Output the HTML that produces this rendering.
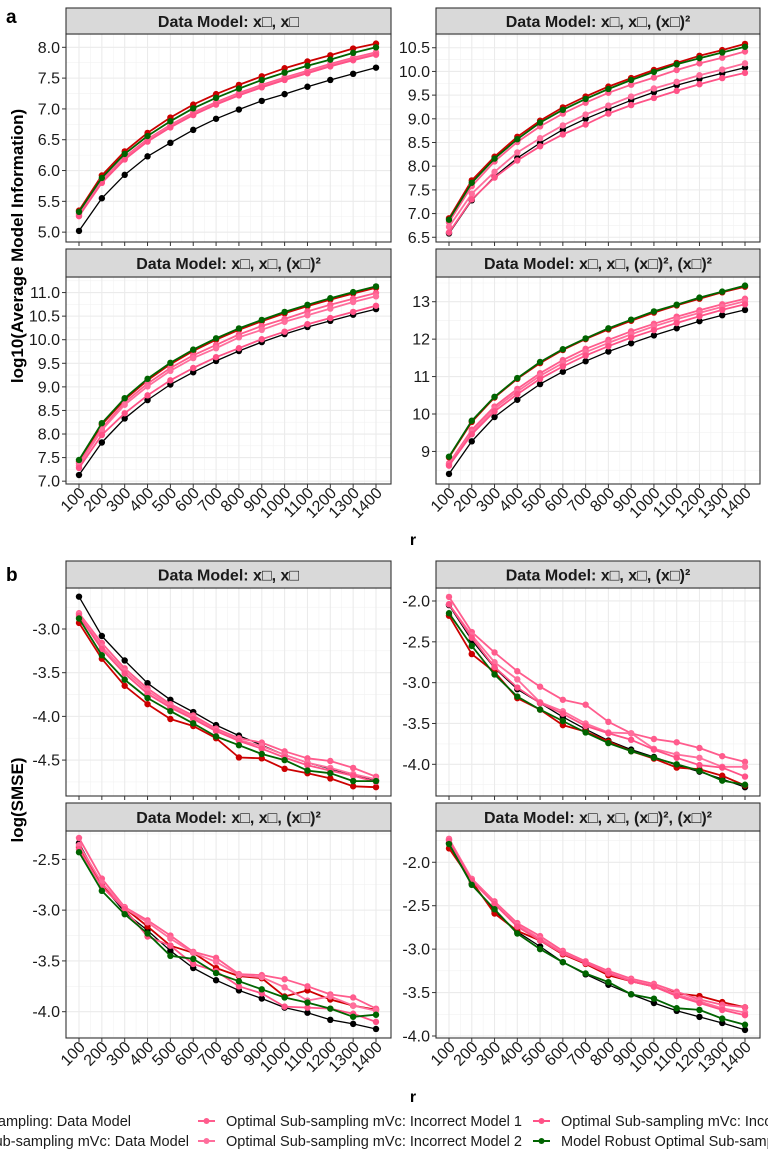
<!DOCTYPE html>
<html><head><meta charset="utf-8"><style>
body{margin:0;background:#fff;}
svg{display:block;font-family:"Liberation Sans",sans-serif;}
</style></head><body>
<svg id="chart" width="768" height="1152" viewBox="0 0 768 1152" xmlns="http://www.w3.org/2000/svg">
<g id="root"></g>
</svg>
<script>
const rValues=[100,200,300,400,500,600,700,800,900,1000,1100,1200,1300,1400];
const seriesNames=["Random Sampling: Data Model","Optimal Sub-sampling mVc: Data Model","Optimal Sub-sampling mVc: Incorrect Model 1","Optimal Sub-sampling mVc: Incorrect Model 2","Optimal Sub-sampling mVc: Incorrect Model 3","Model Robust Optimal Sub-sampling"];
// panel a1
const a1Random=[5.02,5.55,5.93,6.23,6.45,6.66,6.84,6.99,7.13,7.24,7.36,7.47,7.57,7.67];
const a1Optimal=[5.35,5.92,6.31,6.61,6.86,7.07,7.24,7.39,7.53,7.66,7.77,7.87,7.98,8.06];
const a1Inc1=[5.30,5.84,6.22,6.51,6.74,6.94,7.11,7.26,7.39,7.51,7.62,7.73,7.83,7.92];
const a1Inc2=[5.28,5.82,6.20,6.49,6.72,6.92,7.09,7.24,7.37,7.49,7.60,7.71,7.81,7.90];
const a1Inc3=[5.26,5.80,6.18,6.47,6.70,6.90,7.07,7.22,7.35,7.47,7.58,7.69,7.79,7.88];
const a1Robust=[5.33,5.88,6.27,6.56,6.80,7.01,7.18,7.33,7.47,7.59,7.70,7.80,7.91,8.00];
// panel a2
const a2Random=[6.58,7.28,7.78,8.17,8.49,8.77,9.00,9.20,9.39,9.56,9.71,9.84,9.96,10.08];
const a2Optimal=[6.90,7.70,8.20,8.62,8.96,9.24,9.47,9.68,9.86,10.03,10.18,10.33,10.45,10.58];
const a2Inc1=[6.82,7.58,8.10,8.51,8.84,9.11,9.34,9.55,9.72,9.87,10.03,10.17,10.29,10.42];
const a2Inc2=[6.72,7.42,7.88,8.29,8.59,8.86,9.09,9.28,9.47,9.64,9.78,9.92,10.04,10.17];
const a2Inc3=[6.60,7.30,7.76,8.12,8.42,8.67,8.88,9.11,9.29,9.44,9.59,9.73,9.86,9.97];
const a2Robust=[6.87,7.65,8.16,8.57,8.92,9.19,9.42,9.63,9.82,9.99,10.15,10.28,10.40,10.52];
// panel a3
const a3Random=[7.13,7.82,8.33,8.72,9.05,9.31,9.55,9.76,9.95,10.12,10.27,10.40,10.53,10.65];
const a3Optimal=[7.42,8.20,8.73,9.14,9.48,9.76,10.00,10.21,10.39,10.56,10.71,10.85,10.98,11.10];
const a3Inc1=[7.38,8.12,8.67,9.07,9.40,9.67,9.89,10.11,10.29,10.44,10.60,10.74,10.87,10.99];
const a3Inc2=[7.33,8.08,8.62,9.01,9.34,9.61,9.82,10.05,10.21,10.38,10.52,10.66,10.80,10.92];
const a3Inc3=[7.28,7.98,8.44,8.82,9.14,9.40,9.63,9.82,10.01,10.17,10.33,10.46,10.59,10.72];
const a3Robust=[7.45,8.23,8.76,9.17,9.51,9.79,10.03,10.24,10.42,10.59,10.74,10.88,11.01,11.13];
// panel a4
const a4Random=[8.40,9.27,9.92,10.38,10.80,11.13,11.41,11.67,11.89,12.10,12.29,12.48,12.64,12.78];
const a4Optimal=[8.84,9.79,10.44,10.94,11.36,11.71,12.00,12.26,12.49,12.71,12.90,13.08,13.25,13.40];
const a4Inc1=[8.68,9.58,10.20,10.67,11.09,11.44,11.74,11.98,12.21,12.41,12.60,12.77,12.93,13.08];
const a4Inc2=[8.65,9.52,10.14,10.60,11.02,11.36,11.65,11.90,12.13,12.34,12.53,12.70,12.86,13.01];
const a4Inc3=[8.62,9.46,10.07,10.53,10.94,11.27,11.56,11.81,12.04,12.24,12.43,12.61,12.78,12.93];
const a4Robust=[8.86,9.82,10.46,10.96,11.39,11.73,12.02,12.29,12.52,12.74,12.92,13.11,13.27,13.43];
// panel b1
const b1Random=[-2.63,-3.08,-3.36,-3.62,-3.81,-3.95,-4.10,-4.22,-4.33,-4.44,-4.53,-4.60,-4.67,-4.74];
const b1Optimal=[-2.93,-3.34,-3.65,-3.86,-4.03,-4.11,-4.25,-4.47,-4.48,-4.60,-4.65,-4.71,-4.80,-4.81];
const b1Inc1=[-2.82,-3.16,-3.45,-3.68,-3.86,-3.99,-4.14,-4.25,-4.30,-4.40,-4.48,-4.51,-4.59,-4.69];
const b1Inc2=[-2.83,-3.20,-3.48,-3.71,-3.88,-4.01,-4.16,-4.27,-4.34,-4.44,-4.53,-4.59,-4.66,-4.72];
const b1Inc3=[-2.85,-3.23,-3.51,-3.74,-3.90,-4.03,-4.17,-4.28,-4.37,-4.47,-4.56,-4.62,-4.68,-4.75];
const b1Robust=[-2.88,-3.30,-3.58,-3.79,-3.94,-4.08,-4.23,-4.33,-4.43,-4.50,-4.62,-4.65,-4.74,-4.74];
// panel b2
const b2Random=[-2.05,-2.48,-2.82,-3.08,-3.25,-3.42,-3.57,-3.71,-3.82,-3.91,-4.01,-4.09,-4.18,-4.28];
const b2Optimal=[-2.18,-2.65,-2.87,-3.19,-3.33,-3.52,-3.60,-3.72,-3.84,-3.93,-4.04,-4.06,-4.14,-4.26];
const b2Inc1=[-1.95,-2.38,-2.63,-2.86,-3.05,-3.21,-3.27,-3.48,-3.62,-3.69,-3.73,-3.80,-3.90,-3.97];
const b2Inc2=[-2.04,-2.42,-2.75,-2.96,-3.24,-3.35,-3.50,-3.61,-3.62,-3.81,-3.88,-3.92,-4.03,-4.03];
const b2Inc3=[-2.04,-2.45,-2.81,-3.06,-3.25,-3.38,-3.53,-3.62,-3.70,-3.82,-3.92,-4.01,-4.04,-4.15];
const b2Robust=[-2.15,-2.55,-2.90,-3.17,-3.33,-3.47,-3.61,-3.74,-3.84,-3.92,-4.00,-4.08,-4.20,-4.25];
// panel b3
const b3Random=[-2.34,-2.75,-3.02,-3.20,-3.40,-3.57,-3.69,-3.79,-3.87,-3.96,-4.01,-4.08,-4.12,-4.17];
const b3Optimal=[-2.38,-2.76,-2.98,-3.16,-3.35,-3.42,-3.57,-3.65,-3.67,-3.85,-3.79,-3.88,-3.94,-3.98];
const b3Inc1=[-2.29,-2.69,-2.97,-3.10,-3.25,-3.41,-3.47,-3.63,-3.64,-3.68,-3.75,-3.83,-3.86,-3.97];
const b3Inc2=[-2.36,-2.73,-2.98,-3.12,-3.28,-3.42,-3.51,-3.64,-3.66,-3.76,-3.89,-3.85,-3.94,-3.99];
const b3Inc3=[-2.40,-2.77,-2.99,-3.26,-3.35,-3.53,-3.60,-3.75,-3.82,-3.95,-3.96,-3.97,-4.02,-4.10];
const b3Robust=[-2.43,-2.81,-3.04,-3.23,-3.45,-3.48,-3.62,-3.70,-3.78,-3.86,-3.91,-3.97,-4.05,-4.03];
// panel b4
const b4Random=[-1.78,-2.25,-2.56,-2.80,-2.97,-3.15,-3.29,-3.41,-3.52,-3.62,-3.71,-3.78,-3.85,-3.93];
const b4Optimal=[-1.84,-2.22,-2.59,-2.79,-2.90,-3.06,-3.17,-3.30,-3.37,-3.43,-3.51,-3.54,-3.61,-3.67];
const b4Inc1=[-1.73,-2.19,-2.45,-2.70,-2.85,-3.02,-3.14,-3.25,-3.34,-3.40,-3.49,-3.58,-3.64,-3.67];
const b4Inc2=[-1.74,-2.20,-2.47,-2.72,-2.88,-3.04,-3.16,-3.27,-3.36,-3.42,-3.52,-3.60,-3.68,-3.73];
const b4Inc3=[-1.75,-2.21,-2.48,-2.74,-2.90,-3.05,-3.16,-3.28,-3.37,-3.43,-3.54,-3.62,-3.70,-3.76];
const b4Robust=[-1.79,-2.26,-2.54,-2.82,-3.00,-3.15,-3.28,-3.38,-3.52,-3.57,-3.68,-3.70,-3.80,-3.87];
// tick labels
const a1Ticks=["5.0","5.5","6.0","6.5","7.0","7.5","8.0"];
const a2Ticks=["6.5","7.0","7.5","8.0","8.5","9.0","9.5","10.0","10.5"];
const a3Ticks=["7.0","7.5","8.0","8.5","9.0","9.5","10.0","10.5","11.0"];
const a4Ticks=["9","10","11","12","13"];
const b1Ticks=["-4.5","-4.0","-3.5","-3.0"];
const b2Ticks=["-4.0","-3.5","-3.0","-2.5","-2.0"];
const b3Ticks=["-4.0","-3.5","-3.0","-2.5"];
const b4Ticks=["-4.0","-3.5","-3.0","-2.5","-2.0"];

const NS="http://www.w3.org/2000/svg";
const root=document.getElementById('root');
const colors=["#000000","#cc0000","#ff5c8d","#ff6e9c","#ff5287","#006400"];
const widths=[1.3,1.8,1.8,1.8,1.8,1.8];
function mk(tag,attrs,parent){const e=document.createElementNS(NS,tag);for(const k in attrs)e.setAttribute(k,attrs[k]);(parent||root).appendChild(e);return e;}

const SQ="\u25A1";
const panels=[
 {id:"a1",title:"Data Model: x"+SQ+", x"+SQ,x0:66,x1:391,st:8,top:34,bot:242,dom:[4.84,8.216],ticks:a1Ticks,minor:0.25,series:[a1Random,a1Optimal,a1Inc1,a1Inc2,a1Inc3,a1Robust],xl:false},
 {id:"a2",title:"Data Model: x"+SQ+", x"+SQ+", (x"+SQ+")\u00B2",x0:436,x1:760,st:8,top:34,bot:242,dom:[6.40,10.79],ticks:a2Ticks,minor:0.25,series:[a2Random,a2Optimal,a2Inc1,a2Inc2,a2Inc3,a2Robust],xl:false},
 {id:"a3",title:"Data Model: x"+SQ+", x"+SQ+", (x"+SQ+")\u00B2",x0:66,x1:391,st:249,top:277,bot:484,dom:[6.94,11.33],ticks:a3Ticks,minor:0.25,series:[a3Random,a3Optimal,a3Inc1,a3Inc2,a3Inc3,a3Robust],xl:true},
 {id:"a4",title:"Data Model: x"+SQ+", x"+SQ+", (x"+SQ+")\u00B2, (x"+SQ+")\u00B2",x0:436,x1:760,st:249,top:277,bot:484,dom:[8.13,13.66],ticks:a4Ticks,minor:0.5,series:[a4Random,a4Optimal,a4Inc1,a4Inc2,a4Inc3,a4Robust],xl:true},
 {id:"b1",title:"Data Model: x"+SQ+", x"+SQ,x0:66,x1:391,st:561,top:588,bot:796,dom:[-4.911,-2.531],ticks:b1Ticks,minor:0.25,series:[b1Random,b1Optimal,b1Inc1,b1Inc2,b1Inc3,b1Robust],xl:false},
 {id:"b2",title:"Data Model: x"+SQ+", x"+SQ+", (x"+SQ+")\u00B2",x0:436,x1:760,st:561,top:588,bot:796,dom:[-4.388,-1.841],ticks:b2Ticks,minor:0.25,series:[b2Random,b2Optimal,b2Inc1,b2Inc2,b2Inc3,b2Robust],xl:false},
 {id:"b3",title:"Data Model: x"+SQ+", x"+SQ+", (x"+SQ+")\u00B2",x0:66,x1:391,st:803,top:831,bot:1038,dom:[-4.259,-2.221],ticks:b3Ticks,minor:0.25,series:[b3Random,b3Optimal,b3Inc1,b3Inc2,b3Inc3,b3Robust],xl:true},
 {id:"b4",title:"Data Model: x"+SQ+", x"+SQ+", (x"+SQ+")\u00B2, (x"+SQ+")\u00B2",x0:436,x1:760,st:803,top:831,bot:1038,dom:[-4.023,-1.640],ticks:b4Ticks,minor:0.25,series:[b4Random,b4Optimal,b4Inc1,b4Inc2,b4Inc3,b4Robust],xl:true}
];

panels.forEach(p=>{
  const g=mk('g',{});
  
  
  const xs=p.x0+13, xe=p.x1-15;
  const xScale=v=>xs+(v-100)/(1300)*(xe-xs);
  const yScale=v=>p.bot-(v-p.dom[0])/(p.dom[1]-p.dom[0])*(p.bot-p.top);
  mk('rect',{x:p.x0,y:p.top,width:p.x1-p.x0,height:p.bot-p.top,fill:"#fff"},g);
  const start=Math.ceil(p.dom[0]/p.minor)*p.minor;
  for(let v=start;v<=p.dom[1];v+=p.minor){
    const y=yScale(v);
    mk('line',{x1:p.x0,x2:p.x1,y1:y,y2:y,stroke:"#f2f2f2","stroke-width":0.6},g);
  }
  for(let i=0;i<rValues.length-1;i++){
    const x=xScale((rValues[i]+rValues[i+1])/2);
    mk('line',{x1:x,x2:x,y1:p.top,y2:p.bot,stroke:"#f2f2f2","stroke-width":0.6},g);
  }
  p.ticks.forEach(t=>{
    const y=yScale(parseFloat(t));
    mk('line',{x1:p.x0,x2:p.x1,y1:y,y2:y,stroke:"#ebebeb","stroke-width":1.1},g);
    mk('line',{x1:p.x0-4,x2:p.x0,y1:y,y2:y,stroke:"#333","stroke-width":1},g);
    const tx=mk('text',{x:p.x0-6,y:y+5.5,"text-anchor":"end","font-size":"16",fill:"#1a1a1a"},g);
    
    
    tx.textContent=t;
  });
  rValues.forEach(r=>{
    const x=xScale(r);
    mk('line',{x1:x,x2:x,y1:p.top,y2:p.bot,stroke:"#ebebeb","stroke-width":1.1},g);
    mk('line',{x1:x,x2:x,y1:p.bot,y2:p.bot+4,stroke:"#333","stroke-width":1},g);
    if(p.xl){
      const tx=mk('text',{transform:`translate(${x+7},${p.bot+10}) rotate(-45)`,"text-anchor":"end","font-size":"16",fill:"#1a1a1a"},g);
      
      
      tx.textContent=r;
    }
  });
  p.series.forEach((s,si)=>{
    const pts=s.map((v,i)=>xScale(rValues[i]).toFixed(1)+","+yScale(v).toFixed(1)).join(" ");
    const pl=mk('polyline',{points:pts,fill:"none",stroke:colors[si],"stroke-width":widths[si],"stroke-linejoin":"round"},g);
    
    
    s.forEach((v,i)=>{
      const c=mk('circle',{cx:xScale(rValues[i]),cy:yScale(v),r:3.2,fill:colors[si]},g);
      
      
    });
  });
  mk('rect',{x:p.x0,y:p.top,width:p.x1-p.x0,height:p.bot-p.top,fill:"none",stroke:"#333","stroke-width":1.1},g);
  const strip=mk('rect',{x:p.x0,y:p.st,width:p.x1-p.x0,height:p.top-p.st,fill:"#d9d9d9",stroke:"#333","stroke-width":1.1},g);
  
  
  const st=mk('text',{x:(p.x0+p.x1)/2,y:(p.st+p.top)/2+6,"text-anchor":"middle","font-size":"16","font-weight":"bold",fill:"#1a1a1a"},g);
  
  
  st.textContent=p.title;
});

function label(txt,attrs,name){const t=mk('text',attrs);t.textContent=txt;return t;}
label("a",{x:6,y:23,"font-size":"19","font-weight":"bold"},"panel-a-label");
label("b",{x:6,y:581,"font-size":"19","font-weight":"bold"},"panel-b-label");
label("r",{x:413,y:545,"font-size":"16","font-weight":"bold","text-anchor":"middle"},"x-axis-title-a");
label("r",{x:413,y:1102,"font-size":"16","font-weight":"bold","text-anchor":"middle"},"x-axis-title-b");
label("log10(Average Model Information)",{transform:"translate(23,246) rotate(-90)","font-size":"17","font-weight":"bold","text-anchor":"middle"},"y-axis-title-a");
label("log(SMSE)",{transform:"translate(23,800) rotate(-90)","font-size":"17","font-weight":"bold","text-anchor":"middle"},"y-axis-title-b");

// legend: scale so reference entry spans 296px
const probe=mk('text',{x:0,y:-100,"font-size":"15"});
probe.textContent=seriesNames[2];
const squeeze=296/probe.getComputedTextLength();
probe.remove();
const legendPos=[[0,1,1121],[1,1,1141],[2,2,1121],[3,2,1141],[4,3,1121],[5,3,1141]];
const colKeyX=[-60,198,533];
legendPos.forEach(([si,col,y])=>{
  const lg=mk('g',{});
  
  
  let t;
  if(col===1){
    t=mk('text',{x:si===1?189:131,y:y+5,"text-anchor":"end","font-size":"15",fill:"#1a1a1a"},lg);
  } else {
    const kx=colKeyX[col-1];
    mk('line',{x1:kx,x2:kx+17,y1:y,y2:y,stroke:colors[si],"stroke-width":2},lg);
    mk('circle',{cx:kx+8.5,cy:y,r:3,fill:colors[si]},lg);
    t=mk('text',{x:kx+28,y:y+5,"font-size":"15",fill:"#1a1a1a"},lg);
  }
  t.textContent=seriesNames[si];
  const L=t.getComputedTextLength()*squeeze;
  t.setAttribute('textLength',L.toFixed(1));
  t.setAttribute('lengthAdjust','spacingAndGlyphs');
});
</script>
</body></html>
